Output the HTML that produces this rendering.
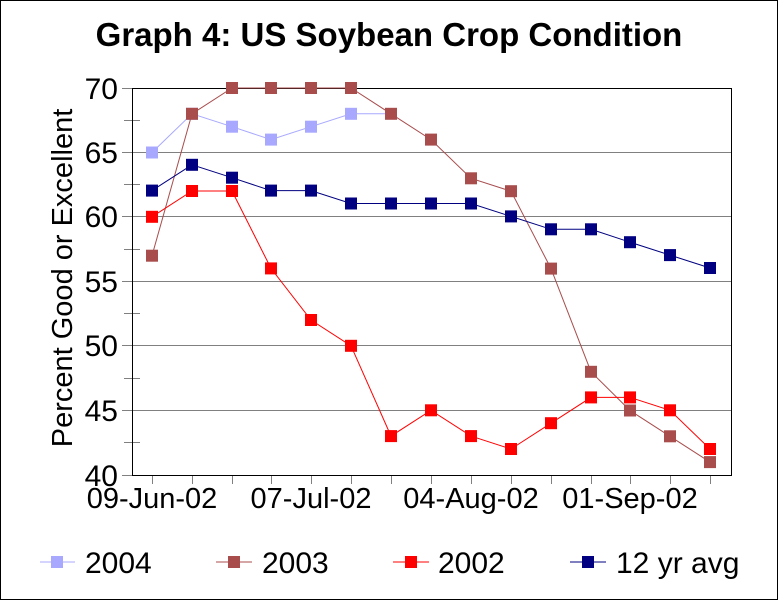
<!DOCTYPE html>
<html><head><meta charset="utf-8"><style>html,body{margin:0;padding:0;background:#fff}svg{display:block}</style></head>
<body>
<svg width="778" height="600" viewBox="0 0 778 600" xmlns="http://www.w3.org/2000/svg" font-family="Liberation Sans, Arial, sans-serif">
<rect x="0.5" y="0.5" width="777" height="599" fill="#fff" stroke="#000"/>
<text x="389" y="46" text-anchor="middle" font-size="33" font-weight="bold">Graph 4:  US Soybean Crop Condition</text>
<g stroke="#808080" stroke-width="1">
<line x1="122" y1="152.5" x2="732" y2="152.5"/>
<line x1="122" y1="216.5" x2="732" y2="216.5"/>
<line x1="122" y1="281.5" x2="732" y2="281.5"/>
<line x1="122" y1="345.5" x2="732" y2="345.5"/>
<line x1="122" y1="410.5" x2="732" y2="410.5"/>
<line x1="122" y1="88.5" x2="132" y2="88.5"/>
<line x1="122" y1="475.5" x2="132" y2="475.5"/>
<line x1="124" y1="120.5" x2="140" y2="120.5"/>
<line x1="124" y1="184.5" x2="140" y2="184.5"/>
<line x1="124" y1="249.5" x2="140" y2="249.5"/>
<line x1="124" y1="313.5" x2="140" y2="313.5"/>
<line x1="124" y1="378.5" x2="140" y2="378.5"/>
<line x1="124" y1="442.5" x2="140" y2="442.5"/>
</g>
<g stroke="#808080">
<line x1="152.5" y1="475" x2="152.5" y2="484"/><line x1="192.5" y1="475" x2="192.5" y2="484"/><line x1="232.5" y1="475" x2="232.5" y2="484"/><line x1="271.5" y1="475" x2="271.5" y2="484"/><line x1="311.5" y1="475" x2="311.5" y2="484"/><line x1="351.5" y1="475" x2="351.5" y2="484"/><line x1="391.5" y1="475" x2="391.5" y2="484"/><line x1="431.5" y1="475" x2="431.5" y2="484"/><line x1="471.5" y1="475" x2="471.5" y2="484"/><line x1="511.5" y1="475" x2="511.5" y2="484"/><line x1="551.5" y1="475" x2="551.5" y2="484"/><line x1="591.5" y1="475" x2="591.5" y2="484"/><line x1="630.5" y1="475" x2="630.5" y2="484"/><line x1="670.5" y1="475" x2="670.5" y2="484"/><line x1="710.5" y1="475" x2="710.5" y2="484"/>
</g>
<rect x="132.5" y="88.5" width="599" height="387" fill="none" stroke="#000" stroke-width="1"/>
<g font-size="30" text-anchor="end">
<text x="118" y="99">70</text><text x="118" y="163">65</text><text x="118" y="227">60</text><text x="118" y="292">55</text><text x="118" y="356">50</text><text x="118" y="421">45</text><text x="118" y="486">40</text>
</g>
<text transform="translate(72,278) rotate(-90)" text-anchor="middle" font-size="29">Percent Good or Excellent</text>
<g font-size="29" text-anchor="middle">
<text x="152" y="508">09-Jun-02</text><text x="311" y="508">07-Jul-02</text><text x="471" y="508">04-Aug-02</text><text x="630" y="508">01-Sep-02</text>
</g>
<polyline fill="none" stroke="#a8a8ff" points="152,152.5 192,113.8 232,126.7 271,139.6 311,126.7 351,113.8 391,113.8"/>
<g fill="#a8a8ff"><rect x="146" y="146.5" width="12" height="12"/><rect x="186" y="107.8" width="12" height="12"/><rect x="226" y="120.7" width="12" height="12"/><rect x="265" y="133.6" width="12" height="12"/><rect x="305" y="120.7" width="12" height="12"/><rect x="345" y="107.8" width="12" height="12"/></g>
<polyline fill="none" stroke="#a84c4c" points="152,255.7 192,113.8 232,88 271,88 311,88 351,88 391,113.8 431,139.6 471,178.3 511,191.2 551,268.6 591,371.8 630,410.5 670,436.3 710,462.1"/>
<g fill="#a84c4c"><rect x="146" y="249.7" width="12" height="12"/><rect x="186" y="107.8" width="12" height="12"/><rect x="226" y="82" width="12" height="12"/><rect x="265" y="82" width="12" height="12"/><rect x="305" y="82" width="12" height="12"/><rect x="345" y="82" width="12" height="12"/><rect x="385" y="107.8" width="12" height="12"/><rect x="425" y="133.6" width="12" height="12"/><rect x="465" y="172.3" width="12" height="12"/><rect x="505" y="185.2" width="12" height="12"/><rect x="545" y="262.6" width="12" height="12"/><rect x="585" y="365.8" width="12" height="12"/><rect x="624" y="404.5" width="12" height="12"/><rect x="664" y="430.3" width="12" height="12"/><rect x="704" y="456.1" width="12" height="12"/></g>
<polyline fill="none" stroke="#ff0000" points="152,216.8 192,191 232,191 271,268.4 311,320 351,345.8 391,436.1 431,410.3 471,436.1 511,449 551,423.2 591,397.4 630,397.4 670,410.3 710,449"/>
<g fill="#ff0000"><rect x="146" y="210.8" width="12" height="12"/><rect x="186" y="185" width="12" height="12"/><rect x="226" y="185" width="12" height="12"/><rect x="265" y="262.4" width="12" height="12"/><rect x="305" y="314" width="12" height="12"/><rect x="345" y="339.8" width="12" height="12"/><rect x="385" y="430.1" width="12" height="12"/><rect x="425" y="404.3" width="12" height="12"/><rect x="465" y="430.1" width="12" height="12"/><rect x="505" y="443" width="12" height="12"/><rect x="545" y="417.2" width="12" height="12"/><rect x="585" y="391.4" width="12" height="12"/><rect x="624" y="391.4" width="12" height="12"/><rect x="664" y="404.3" width="12" height="12"/><rect x="704" y="443" width="12" height="12"/></g>
<polyline fill="none" stroke="#000080" points="152,190.6 192,164.8 232,177.7 271,190.6 311,190.6 351,203.5 391,203.5 431,203.5 471,203.5 511,216.4 551,229.3 591,229.3 630,242.2 670,255.1 710,268"/>
<g fill="#000080"><rect x="146" y="184.6" width="12" height="12"/><rect x="186" y="158.8" width="12" height="12"/><rect x="226" y="171.7" width="12" height="12"/><rect x="265" y="184.6" width="12" height="12"/><rect x="305" y="184.6" width="12" height="12"/><rect x="345" y="197.5" width="12" height="12"/><rect x="385" y="197.5" width="12" height="12"/><rect x="425" y="197.5" width="12" height="12"/><rect x="465" y="197.5" width="12" height="12"/><rect x="505" y="210.4" width="12" height="12"/><rect x="545" y="223.3" width="12" height="12"/><rect x="585" y="223.3" width="12" height="12"/><rect x="624" y="236.2" width="12" height="12"/><rect x="664" y="249.1" width="12" height="12"/><rect x="704" y="262" width="12" height="12"/></g>
<line x1="40" y1="562" x2="75" y2="562" stroke="#a8a8ff"/><rect x="51" y="556" width="12" height="12" fill="#a8a8ff"/>
<line x1="216" y1="562" x2="252" y2="562" stroke="#a84c4c"/><rect x="228" y="556" width="12" height="12" fill="#a84c4c"/>
<line x1="393" y1="562" x2="429" y2="562" stroke="#ff0000"/><rect x="405" y="556" width="12" height="12" fill="#ff0000"/>
<line x1="570" y1="562" x2="606" y2="562" stroke="#000080"/><rect x="582" y="556" width="12" height="12" fill="#000080"/>
<g font-size="30"><text x="85" y="573">2004</text><text x="262" y="573">2003</text><text x="438" y="573">2002</text><text x="616" y="573">12 yr avg</text></g>
</svg>
</body></html>
